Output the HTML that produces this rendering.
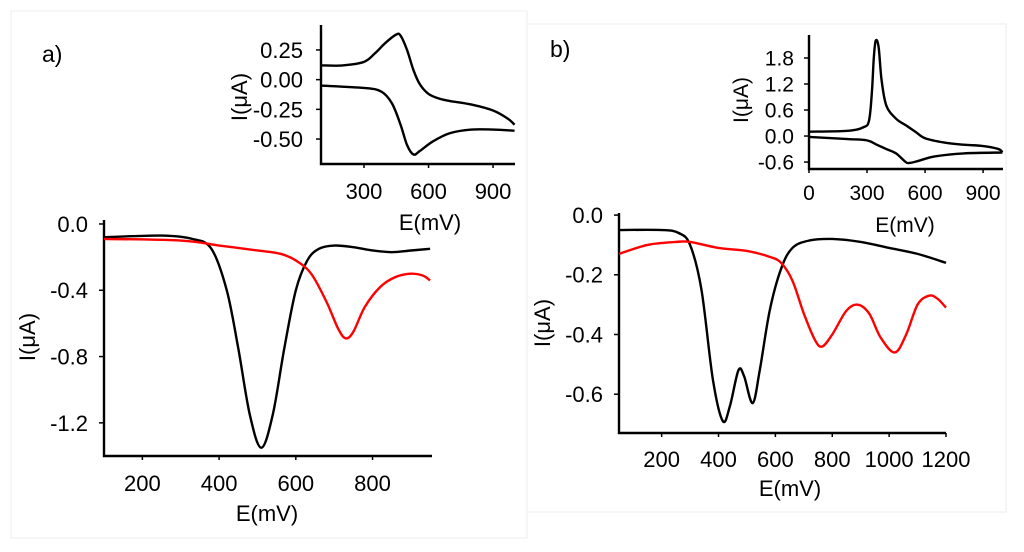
<!DOCTYPE html>
<html><head><meta charset="utf-8"><style>
body{margin:0;background:#fff;width:1024px;height:552px;overflow:hidden}
svg{display:block;font-family:"Liberation Sans",sans-serif}
</style></head><body>
<svg id="c" width="1024" height="552">
<rect x="11" y="11" width="516" height="527" fill="none" stroke="#eee"/>
<rect x="527" y="24" width="479" height="488" fill="none" stroke="#eee"/>
<text x="42" y="62" font-size="23">a)</text>
<text x="550" y="57" font-size="23">b)</text>
</svg>
<script>
// Panel a main
const aMainBlackX=[100,250,330,380,420,450,480,510,540,570,600,630,660,700,750,800,850,900,950];
const aMainBlackY=[-0.08,-0.07,-0.09,-0.15,-0.4,-0.75,-1.15,-1.35,-1.15,-0.75,-0.4,-0.22,-0.15,-0.13,-0.14,-0.16,-0.17,-0.16,-0.15];
const aMainRedX=[100,300,400,500,560,600,640,680,710,730,750,780,820,860,900,930,950];
const aMainRedY=[-0.09,-0.1,-0.13,-0.16,-0.18,-0.22,-0.3,-0.47,-0.63,-0.69,-0.65,-0.5,-0.38,-0.32,-0.3,-0.31,-0.34];
const aMainXTicks=[200,400,600,800];
const aMainYTicks=[0,-0.4,-0.8,-1.2];
const aMainYLabels=["0.0","-0.4","-0.8","-1.2"];
// Panel a inset
const aInUpX=[100,200,300,350,400,450,470,500,530,560,600,650,700,800,900,970,1000];
const aInUpY=[0.12,0.12,0.15,0.22,0.31,0.38,0.37,0.25,0.08,-0.04,-0.12,-0.16,-0.18,-0.21,-0.26,-0.33,-0.38];
const aInLoX=[100,300,380,430,470,500,530,560,620,700,800,900,1000];
const aInLoY=[-0.05,-0.07,-0.1,-0.2,-0.38,-0.55,-0.63,-0.6,-0.52,-0.45,-0.42,-0.42,-0.43];
const aInXTicks=[300,600,900];
const aInYTicks=[0.25,0,-0.25,-0.5];
const aInYLabels=["0.25","0.00","-0.25","-0.50"];
// Panel b main
const bMainBlackX=[50,200,260,300,340,380,415,440,470,490,520,545,580,620,660,720,800,900,1000,1100,1200];
const bMainBlackY=[-0.05,-0.05,-0.06,-0.1,-0.25,-0.55,-0.69,-0.64,-0.52,-0.54,-0.63,-0.52,-0.32,-0.18,-0.11,-0.085,-0.08,-0.09,-0.11,-0.13,-0.16];
const bMainRedX=[50,150,250,300,400,500,580,620,660,700,740,765,800,850,890,930,970,1020,1060,1100,1140,1170,1200];
const bMainRedY=[-0.13,-0.1,-0.09,-0.09,-0.11,-0.12,-0.14,-0.16,-0.22,-0.33,-0.42,-0.44,-0.4,-0.32,-0.3,-0.33,-0.41,-0.46,-0.4,-0.3,-0.27,-0.28,-0.31];
const bMainXTicks=[200,400,600,800,1000,1200];
const bMainYTicks=[0,-0.2,-0.4,-0.6];
const bMainYLabels=["0.0","-0.2","-0.4","-0.6"];
// Panel b inset
const bInUpX=[0,200,280,310,325,335,345,360,375,400,450,500,550,600,700,800,900,980,1000];
const bInUpY=[0.1,0.12,0.2,0.35,1.0,1.8,2.2,2.05,1.3,0.7,0.4,0.25,0.1,-0.05,-0.15,-0.2,-0.23,-0.3,-0.38];
const bInLoX=[0,200,300,350,400,450,500,520,560,650,800,1000];
const bInLoY=[-0.02,-0.07,-0.1,-0.2,-0.3,-0.4,-0.6,-0.62,-0.58,-0.47,-0.4,-0.38];
const bInXTicks=[0,300,600,900];
const bInYTicks=[1.8,1.2,0.6,0,-0.6];
const bInYLabels=["1.8","1.2","0.6","0.0","-0.6"];

const svg=document.getElementById('c');
const NS='http://www.w3.org/2000/svg';
function mk(tag,attrs,parent){const e=document.createElementNS(NS,tag);for(const k in attrs)e.setAttribute(k,attrs[k]);(parent||svg).appendChild(e);return e;}
function smooth(pts){let d='M'+pts[0][0]+','+pts[0][1];for(let i=0;i<pts.length-1;i++){const p0=pts[i-1]||pts[i],p1=pts[i],p2=pts[i+1],p3=pts[i+2]||p2;
d+=' C'+(p1[0]+(p2[0]-p0[0])/6)+','+(p1[1]+(p2[1]-p0[1])/6)+' '+(p2[0]-(p3[0]-p1[0])/6)+','+(p2[1]-(p3[1]-p1[1])/6)+' '+p2[0]+','+p2[1];}return d;}
function chart(o){
  const sx=v=>o.x0+(v-o.xmin)/(o.xmax-o.xmin)*(o.x1-o.x0);
  const sy=v=>o.y1+(v-o.ymin)/(o.ymax-o.ymin)*(o.y0-o.y1);
  const g=mk('g',{});
  
  
  const ax=mk('path',{d:`M${o.x0},${o.y0}V${o.y1}H${o.x1}`,fill:'none',stroke:'#000','stroke-width':2.4},g);
  
  
  o.xt.forEach(v=>{const x=sx(v);
    const t=mk('line',{x1:x,x2:x,y1:o.y1,y2:o.y1+4,stroke:'#000','stroke-width':1.5},g);
    
    
    const l=mk('text',{x:x,y:o.y1+o.xlOff,'font-size':o.fs,'text-anchor':'middle'},g);l.textContent=v;
    
    });
  o.yt.forEach((v,i)=>{const y=sy(v);
    const t=mk('line',{x1:o.x0-5,x2:o.x0,y1:y,y2:y,stroke:'#000','stroke-width':1.5},g);
    
    
    const l=mk('text',{x:o.x0-o.ylGap,y:y+o.fs*0.36,'font-size':o.fs,'text-anchor':'end'},g);l.textContent=o.yl[i];
    
    });
  const xt=mk('text',{x:o.xtx,y:o.xty,'font-size':o.fs,'text-anchor':'middle'},g);xt.textContent='E(mV)';
  
  
  const yt=mk('text',{x:0,y:0,'font-size':o.fs,'text-anchor':'middle',transform:`translate(${o.ytx},${o.yty}) rotate(-90)`},g);yt.textContent='I(μA)';
  
  
  o.series.forEach(s=>{const pts=s.x.map((v,i)=>[sx(v),sy(s.y[i])]);
    const p=mk('path',{d:smooth(pts),fill:'none',stroke:s.c,'stroke-width':2.4},g);
    
    });
}
chart({name:'panel-a-main',x0:104,x1:432,y0:220,y1:456,xmin:100,xmax:955,ymin:-1.4,ymax:0.024,xt:aMainXTicks,yt:aMainYTicks,yl:aMainYLabels,fs:22,ylGap:16,xlOff:35,xtx:267,xty:521,ytx:35,yty:337,
  series:[{x:aMainBlackX,y:aMainBlackY,c:'#000',n:'line-black'},{x:aMainRedX,y:aMainRedY,c:'#f00',n:'line-red'}]});
chart({name:'panel-a-inset',x0:321,x1:515,y0:25,y1:164,xmin:100,xmax:1002,ymin:-0.71,ymax:0.46,xt:aInXTicks,yt:aInYTicks,yl:aInYLabels,fs:22,ylGap:18,xlOff:35,xtx:430,xty:230,ytx:247,yty:97,
  series:[{x:aInUpX,y:aInUpY,c:'#000',n:'cv-upper'},{x:aInLoX,y:aInLoY,c:'#000',n:'cv-lower'}]});
chart({name:'panel-b-main',x0:619,x1:946,y0:213,y1:433,xmin:50,xmax:1200,ymin:-0.73,ymax:0.007,xt:bMainXTicks,yt:bMainYTicks,yl:bMainYLabels,fs:22,ylGap:16,xlOff:34,xtx:790,xty:496,ytx:550,yty:323,
  series:[{x:bMainBlackX,y:bMainBlackY,c:'#000',n:'line-black'},{x:bMainRedX,y:bMainRedY,c:'#f00',n:'line-red'}]});
chart({name:'panel-b-inset',x0:809,x1:1003,y0:35,y1:169,xmin:0,xmax:1003,ymin:-0.76,ymax:2.33,xt:bInXTicks,yt:bInYTicks,yl:bInYLabels,fs:21,ylGap:15,xlOff:31,xtx:905,xty:232,ytx:748,yty:100,
  series:[{x:bInUpX,y:bInUpY,c:'#000',n:'cv-upper'},{x:bInLoX,y:bInLoY,c:'#000',n:'cv-lower'}]});
</script>
</body></html>
